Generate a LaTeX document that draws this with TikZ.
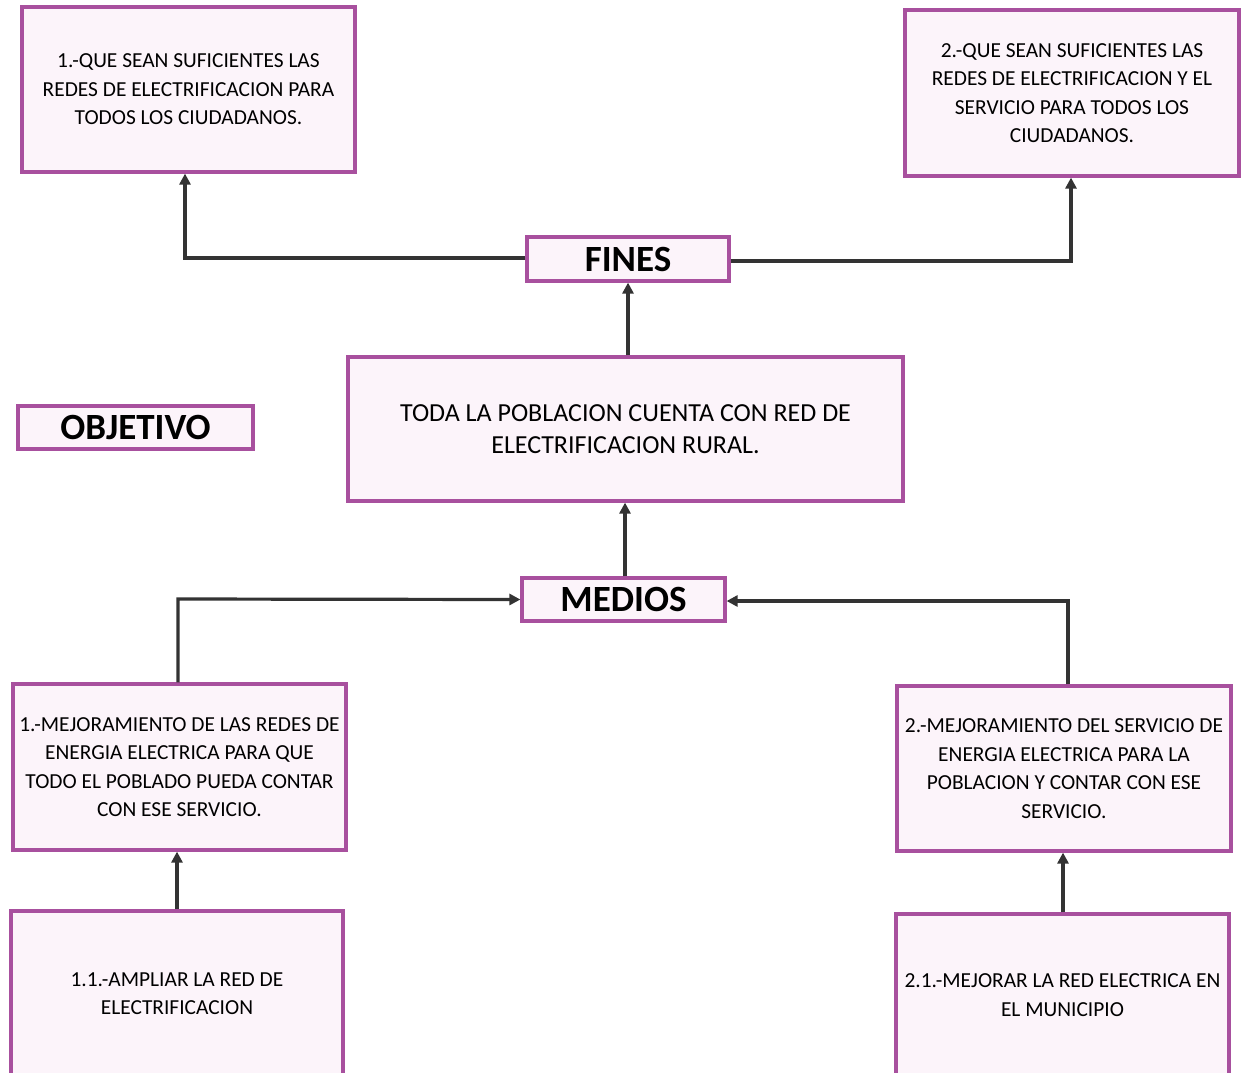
\documentclass[tikz,border=0pt]{standalone}
\usepackage{fontspec}
\setmainfont{Carlito}
\usetikzlibrary{arrows.meta}
\definecolor{boxline}{HTML}{A8509E}
\definecolor{boxfill}{HTML}{FCF4FA}
\definecolor{conn}{HTML}{333333}
\tikzset{
  box/.style={draw=boxline, fill=boxfill, line width=3.2pt, inner sep=0pt, align=center,
    font=\fontsize{21.4}{28.5}\selectfont},
  titlebox/.style={draw=boxline, fill=boxfill, line width=3.2pt, inner sep=0pt,
    font=\fontsize{37}{40}\selectfont\bfseries},
  conn/.style={draw=conn, line width=3.2pt, line join=miter, -{Triangle[length=11pt,width=11pt]}},
}
\begin{document}
\begin{tikzpicture}[x=1pt,y=-1pt]
\useasboundingbox (0,0) rectangle (1244,1072);
\clip (0,0) rectangle (1244,1072);
\fill[white] (0,0) rectangle (1244,1072);
% boxes
\node[box, minimum width=333pt, minimum height=165pt] (b1) at (188.5,89.5)
  {1.-QUE SEAN SUFICIENTES LAS\\REDES DE ELECTRIFICACION PARA\\TODOS LOS CIUDADANOS.};
\node[box, minimum width=334pt, minimum height=166pt] (b2) at (1072,93)
  {2.-QUE SEAN SUFICIENTES LAS\\REDES DE ELECTRIFICACION Y EL\\SERVICIO PARA TODOS LOS\\CIUDADANOS.};
\node[titlebox, minimum width=202pt, minimum height=44pt] (fines) at (628,259) {FINES};
\node[titlebox, minimum width=235pt, minimum height=43pt] (obj) at (135.5,427.5) {OBJETIVO};
\node[box, minimum width=555pt, minimum height=144pt, font=\fontsize{26}{32}\selectfont] (obj1) at (625.5,429)
  {TODA LA POBLACION CUENTA CON RED DE\\ELECTRIFICACION RURAL.};
\node[titlebox, minimum width=203pt, minimum height=43pt] (medios) at (623.5,599.5) {MEDIOS};
\node[box, minimum width=333pt, minimum height=166pt] (m1) at (179.5,767)
  {1.-MEJORAMIENTO DE LAS REDES DE\\ENERGIA ELECTRICA PARA QUE\\TODO EL POBLADO PUEDA CONTAR\\CON ESE SERVICIO.};
\node[box, minimum width=334pt, minimum height=165pt] (m2) at (1064,768.5)
  {2.-MEJORAMIENTO DEL SERVICIO DE\\ENERGIA ELECTRICA PARA LA\\POBLACION Y CONTAR CON ESE\\SERVICIO.};
\node[box, minimum width=332pt, minimum height=165pt] (m11) at (177,993.5)
  {1.1.-AMPLIAR LA RED DE\\ELECTRIFICACION};
\node[box, minimum width=333pt, minimum height=162pt] (m21) at (1062.5,995)
  {2.1.-MEJORAR LA RED ELECTRICA EN\\EL MUNICIPIO};
% connectors
\draw[conn] (fines.west |- 0,258) -- (185,258) -- (b1.south -| 185,0);
\draw[conn] (fines.east |- 0,261) -- (1071,261) -- (b2.south -| 1071,0);
\draw[conn] (obj1.north -| 628,0) -- (fines.south -| 628,0);
\draw[conn] (medios.north -| 625,0) -- (obj1.south -| 625,0);
\draw[conn] (m1.north -| 178,0) -- (178,599) -- (medios.west);
\draw[conn] (m2.north -| 1068,0) -- (1068,601) -- (medios.east |- 0,601);
\draw[conn] (m11.north -| 177,0) -- (m1.south -| 177,0);
\draw[conn] (m21.north -| 1063,0) -- (m2.south -| 1063,0);
\end{tikzpicture}
\end{document}
